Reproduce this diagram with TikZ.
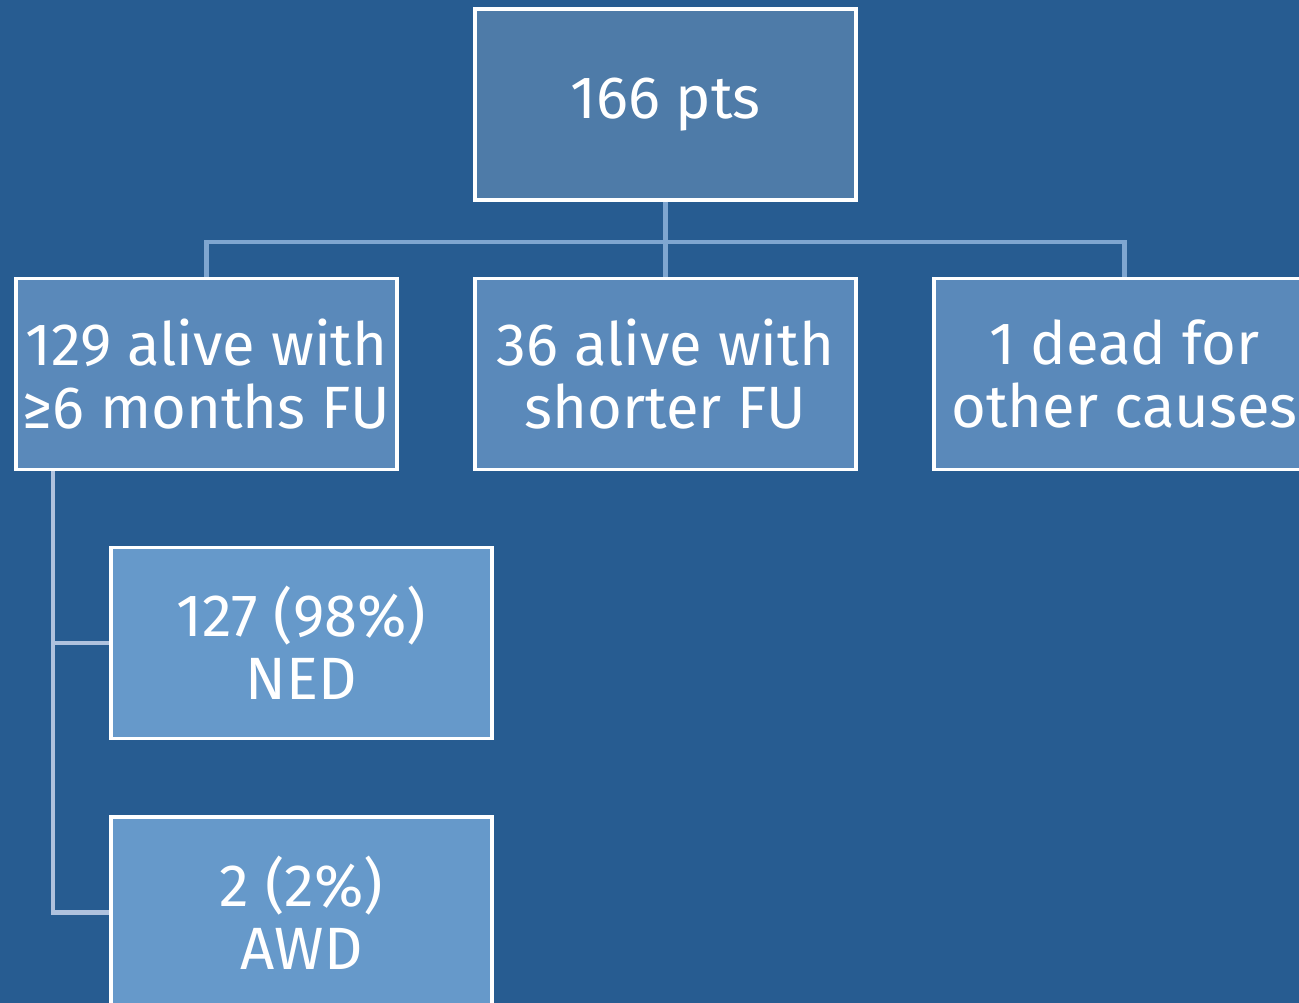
\documentclass[tikz,border=0pt]{standalone}
\usepackage{fontspec}
\setmainfont{Fira Sans}
\usetikzlibrary{positioning,calc}
\definecolor{slidebg}{HTML}{275C91}
\definecolor{topfill}{HTML}{4E7BA8}
\definecolor{midfill}{HTML}{5A89BA}
\definecolor{lowfill}{HTML}{6699CA}
\definecolor{linkblue}{HTML}{7FA6D0}
\definecolor{linkpale}{HTML}{AFC2DE}
\tikzstyle{box}=[rectangle,draw=white,line width=2.2pt,minimum width=7.62cm,
                minimum height=3.82cm,inner sep=0pt,text=white,align=center,
                font=\fontsize{34}{36}\selectfont]
\tikzstyle{link}=[draw=linkblue,line width=2.4pt]

\begin{document}
\begin{tikzpicture}[x=0.02cm,y=-0.02cm]
    \tikzstyle{top box}=[box, fill=topfill];
    \tikzstyle{mid box}=[box, fill=midfill];
    \tikzstyle{low box}=[box, fill=lowfill];

    % page and clip
    \fill[slidebg] (0,0) rectangle (1299,1003);
    \useasboundingbox (0,0) rectangle (1299,1003);
    \clip (0,0) rectangle (1299,1003);

    % root
    \node[top box] (pts) at (665.5,104.5) {166 pts};

    % second row
    \node[mid box] (alive) at (206.5,374) {129 alive with\\≥6 months FU};
    \node[mid box] (shorter) at (665.5,374) {36 alive with\\shorter FU};
    \node[mid box] (dead) at (1124.5,374) {1 dead for\\other causes};

    % third row
    \node[low box] (ned) at (301.5,643) {127 (98\%)\\NED};
    \node[low box] (awd) at (301.5,912.5) {2 (2\%)\\AWD};

    % connect root with second row
    \draw[link] (pts.south) -- ++(0,40) coordinate (fork) -| (alive.north);
    \draw[link] (fork) -| (dead.north);
    \draw[link] (fork) -- (shorter.north);

    % connect alive with outcomes
    \coordinate (trunk) at ([xshift=0.78cm]alive.south west);
    \draw[link,draw=linkpale] (trunk) |- (ned.west);
    \draw[link,draw=linkpale] (trunk) |- (awd.west);
\end{tikzpicture}
\end{document}
